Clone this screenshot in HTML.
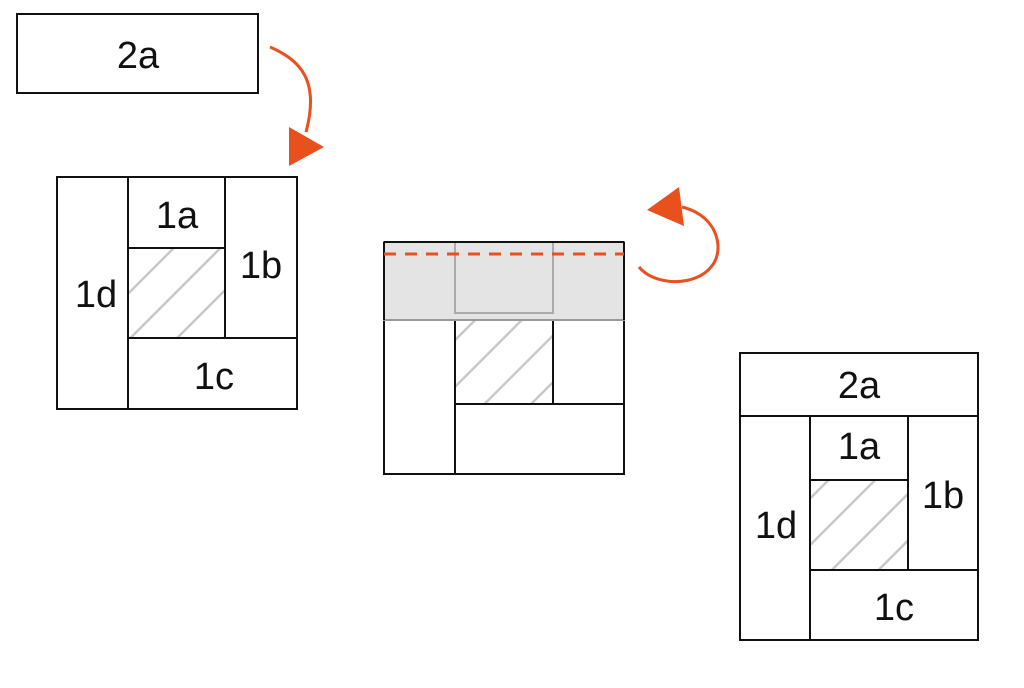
<!DOCTYPE html>
<html><head><style>body{margin:0;background:#fff}</style></head><body>
<svg width="1024" height="683" viewBox="0 0 1024 683" xmlns="http://www.w3.org/2000/svg" font-family="Liberation Sans, sans-serif">
<defs>
<pattern id="h" patternUnits="userSpaceOnUse" width="33" height="33" patternTransform="rotate(45)">
<rect width="33" height="33" fill="#fff"/><line x1="0" y1="0" x2="0" y2="33" stroke="#c8c8c8" stroke-width="5"/>
</pattern>
</defs>
<g stroke="#111" stroke-width="2" fill="#fff">
<rect x="17" y="14" width="241" height="79"/>
<!-- block1 -->
<rect x="57" y="177" width="71" height="232"/>
<rect x="128" y="177" width="97" height="71"/>
<rect x="128" y="248" width="97" height="90" fill="url(#h)"/>
<rect x="225" y="177" width="72" height="161"/>
<rect x="128" y="338" width="169" height="71"/>
<!-- block2 -->
<rect x="384" y="242" width="71" height="232"/>
<rect x="455" y="313" width="98" height="91" fill="url(#h)"/>
<rect x="553" y="242" width="71" height="162"/>
<rect x="455" y="404" width="169" height="70"/>
<!-- block3 -->
<rect x="740" y="353" width="238" height="63"/>
<rect x="740" y="416" width="70" height="224"/>
<rect x="810" y="416" width="98" height="64"/>
<rect x="810" y="480" width="98" height="90" fill="url(#h)"/>
<rect x="908" y="416" width="70" height="154"/>
<rect x="810" y="570" width="168" height="70"/>
</g>
<rect x="384" y="242" width="240" height="78" fill="#e4e4e4" stroke="#999" stroke-width="2"/>
<rect x="455" y="242" width="98" height="71" fill="none" stroke="#aaa" stroke-width="2"/>
<line x1="384" y1="242" x2="624" y2="242" stroke="#111" stroke-width="2"/>
<line x1="384" y1="242" x2="384" y2="320" stroke="#111" stroke-width="2"/>
<line x1="624" y1="242" x2="624" y2="320" stroke="#111" stroke-width="2"/>
<line x1="384" y1="254" x2="624" y2="254" stroke="#e8501e" stroke-width="3" stroke-dasharray="12,9"/>
<g fill="#e8501e">
<path d="M270,47 C300,60 320,80 306,132" fill="none" stroke="#e8501e" stroke-width="3"/>
<polygon points="289,127 324,147 289,166"/>
<path d="M639,267 C660,292 720,285 718,245 C716,225 702,212 682,207" fill="none" stroke="#e8501e" stroke-width="3"/>
<polygon points="647,210 679,187 684,226"/>
</g>
<g font-size="38" text-anchor="middle" fill="#111">
<text x="138" y="68">2a</text>
<text x="177" y="228">1a</text>
<text x="261" y="278">1b</text>
<text x="96" y="307">1d</text>
<text x="214" y="389">1c</text>
<text x="859" y="398">2a</text>
<text x="859" y="459">1a</text>
<text x="943" y="508">1b</text>
<text x="776" y="538">1d</text>
<text x="894" y="620">1c</text>
</g>
</svg>
</body></html>
